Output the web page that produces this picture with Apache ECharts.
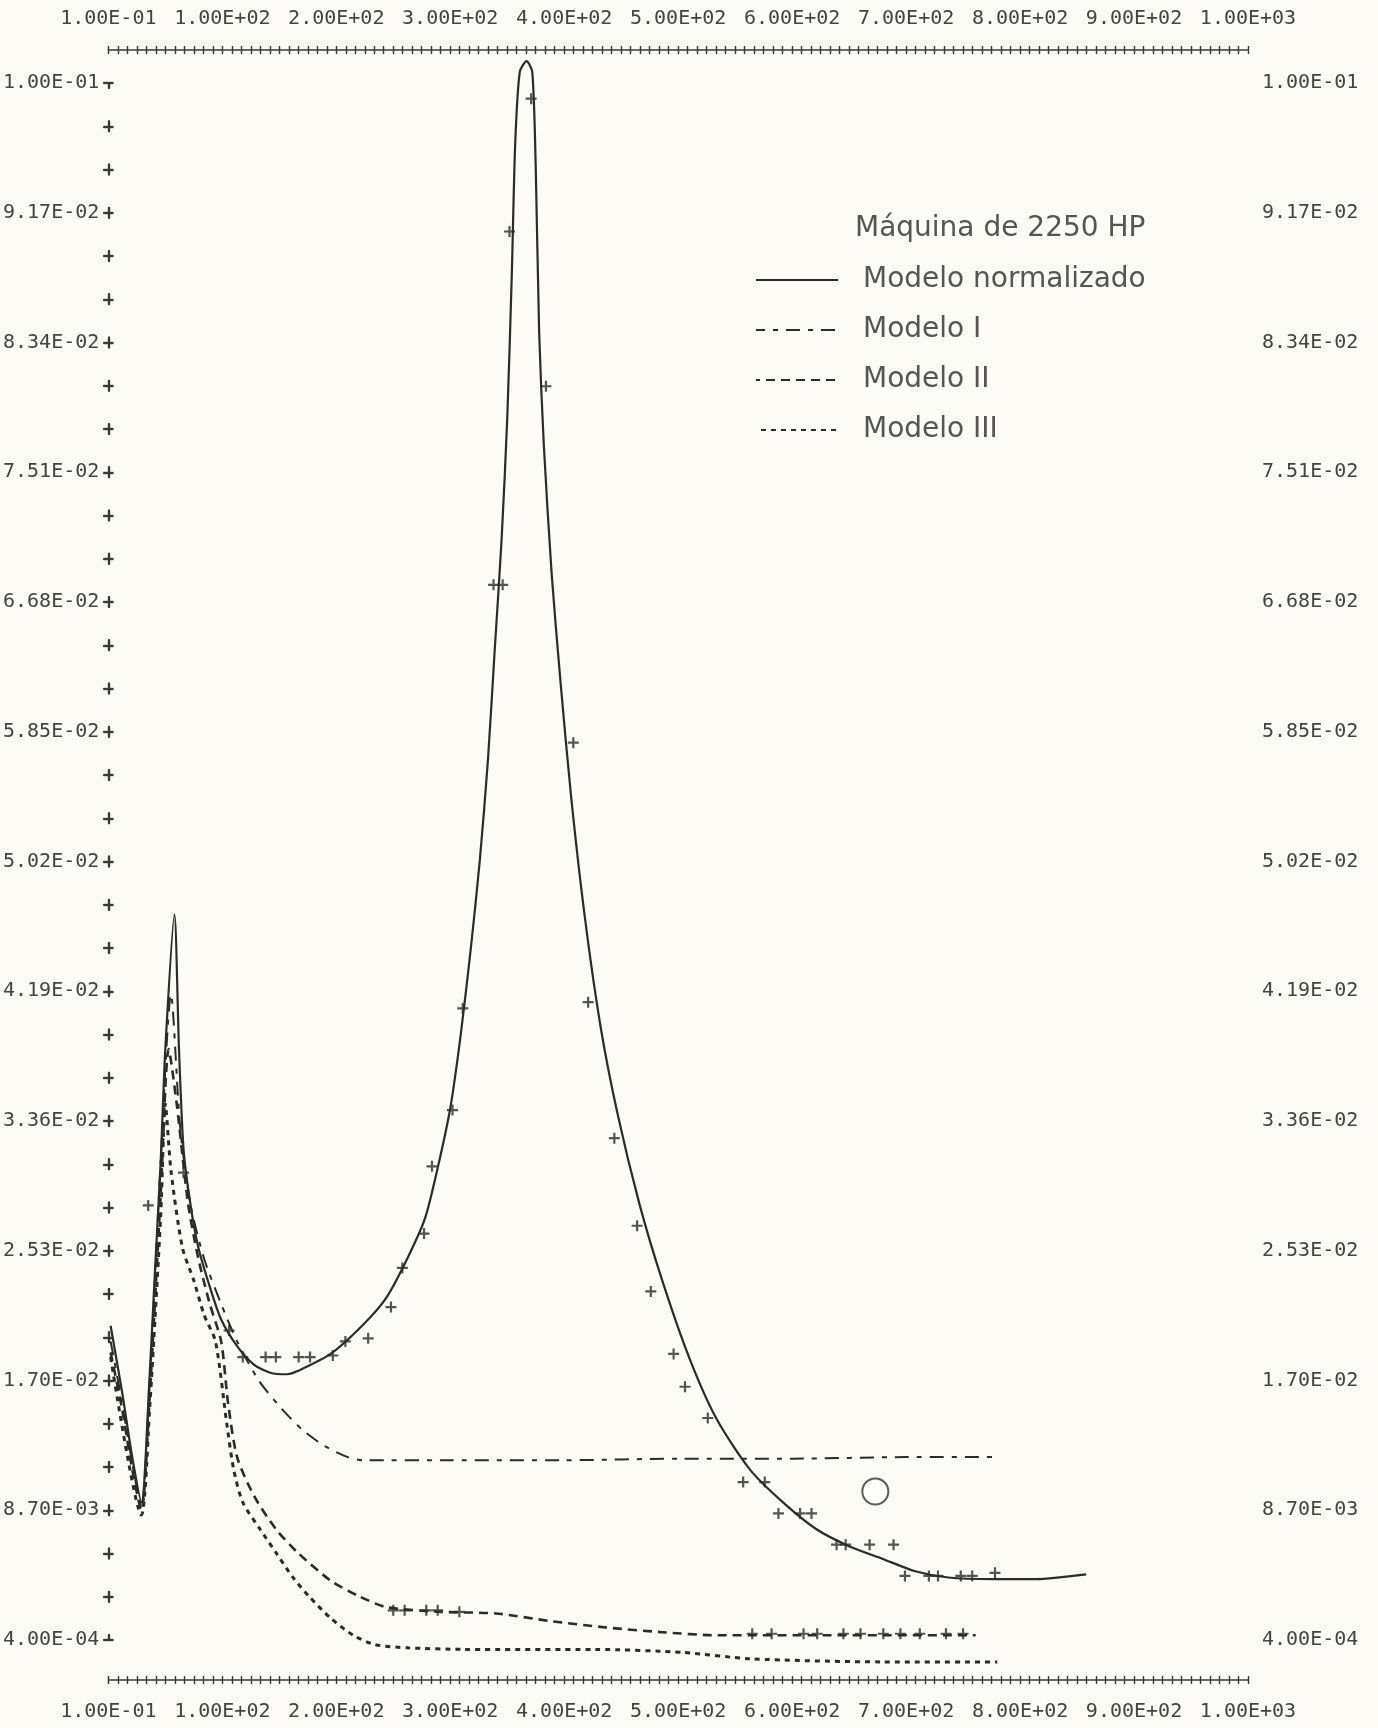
<!DOCTYPE html>
<html>

<head>
    <meta charset="utf-8">
    <title>Máquina de 2250 HP</title>
    <script src="https://cdn.jsdelivr.net/npm/echarts@6/dist/echarts.min.js"></script>
</head>

<body style="margin:0;background:#fcfbf5;">
    <div id="main" style="width: 1378px;height:1728px;"></div>
    <script type="text/javascript">
        var myChart = echarts.init(document.getElementById('main'));

        // tick labels (printer style)
        const xTickLabels = ['1.00E-01', '1.00E+02', '2.00E+02', '3.00E+02', '4.00E+02', '5.00E+02',
            '6.00E+02', '7.00E+02', '8.00E+02', '9.00E+02', '1.00E+03'];
        const yTickLabels = ['4.00E-04', '8.70E-03', '1.70E-02', '2.53E-02', '3.36E-02', '4.19E-02',
            '5.02E-02', '5.85E-02', '6.68E-02', '7.51E-02', '8.34E-02', '9.17E-02', '1.00E-01'];

        // Modelo normalizado
        const normX = [2, 12, 21, 29, 36, 41, 46, 50, 58, 62, 66, 72, 79, 89, 99, 113, 128, 142, 157, 166, 195,
            224, 244, 263, 278, 289, 300, 309, 318, 326, 333, 339, 345, 350, 354, 357, 361, 367, 372, 375, 378,
            382, 389, 397, 406, 418, 432, 447, 466, 486, 510, 534, 563, 592, 621, 650, 679, 708, 737, 776, 814, 858];
        const normY = [0.0205, 0.0163, 0.0121, 0.0092, 0.0170, 0.0241, 0.0311, 0.0382, 0.0468, 0.0382, 0.0318,
            0.0283, 0.0255, 0.0230, 0.0209, 0.0192, 0.0180, 0.0175, 0.0174, 0.0176, 0.0187, 0.0206, 0.0223,
            0.0249, 0.0274, 0.0306, 0.0344, 0.0390, 0.0446, 0.0503, 0.0566, 0.0637, 0.0707, 0.0785, 0.0877,
            0.0961, 0.1007, 0.1014, 0.1007, 0.0947, 0.0841, 0.0770, 0.0686, 0.0615, 0.0544, 0.0467, 0.0396,
            0.0340, 0.0283, 0.0234, 0.0184, 0.0145, 0.0113, 0.0092, 0.0075, 0.0064, 0.0056, 0.0048, 0.0044,
            0.0043, 0.0043, 0.0046];

        // Modelo I
        const m1X = [2, 12, 21, 29, 36, 46, 55, 63, 72, 84, 99, 113, 132, 152, 171, 190, 210, 224, 300, 400,
            500, 600, 700, 780];
        const m1Y = [0.0195, 0.0156, 0.0117, 0.0089, 0.0163, 0.0311, 0.0417, 0.0332, 0.0283, 0.0248, 0.0219,
            0.0195, 0.0170, 0.0152, 0.0138, 0.0128, 0.0121, 0.0119, 0.0119, 0.0119, 0.0120, 0.0120, 0.0121, 0.0121];

        // Modelo II
        const m2X = [2, 12, 21, 29, 36, 46, 53, 60, 70, 79, 89, 99, 105, 113, 128, 147, 166, 195, 220, 244,
            292, 340, 389, 437, 486, 534, 582, 761];
        const m2Y = [0.0188, 0.0152, 0.0113, 0.0087, 0.0156, 0.0290, 0.0382, 0.0347, 0.0283, 0.0248, 0.0219,
            0.0195, 0.0156, 0.0121, 0.0096, 0.0075, 0.0060, 0.0042, 0.0032, 0.0025, 0.0022, 0.0021, 0.0016,
            0.0012, 0.0009, 0.0007, 0.0007, 0.0007];

        // Modelo III
        const m3X = [2, 29, 36, 46, 50, 55, 65, 75, 84, 94, 104, 110, 118, 133, 147, 162, 176, 195, 215, 234,
            263, 312, 428, 505, 563, 679, 780];
        const m3Y = [0.0185, 0.0084, 0.0149, 0.0276, 0.0347, 0.0304, 0.0255, 0.0234, 0.0212, 0.0195, 0.0142,
            0.0113, 0.0092, 0.0075, 0.0060, 0.0044, 0.0032, 0.0018, 0.0007, 0.0001, -0.0001, -0.0002, -0.0002,
            -0.0004, -0.0008, -0.0010, -0.0010];

        // measured points (+)
        const ptX = [35, 66, 106, 118, 138, 147, 167, 177, 197, 208, 228, 248, 258, 277, 284, 302, 311, 338,
            346, 352, 371, 384, 408, 421, 444, 464, 476, 496, 506, 526, 557, 576, 588, 607, 617, 639, 647, 668,
            689, 699, 720, 728, 748, 758, 778,
            250, 260, 279, 289, 308, 565, 582, 610, 622, 645, 660, 680, 695, 712, 735, 750];
        const ptY = [0.0282, 0.0303, 0.0202, 0.0185, 0.0185, 0.0185, 0.0185, 0.0185, 0.0186, 0.0195, 0.0197,
            0.0217, 0.0242, 0.0264, 0.0307, 0.0343, 0.0408, 0.0679, 0.0679, 0.0905, 0.0990, 0.0806, 0.0578,
            0.0412, 0.0325, 0.0269, 0.0227, 0.0187, 0.0166, 0.0146, 0.0105, 0.0105, 0.0085, 0.0085, 0.0085,
            0.0065, 0.0065, 0.0065, 0.0065, 0.0045, 0.0045, 0.0045, 0.0045, 0.0045, 0.0047,
            0.0023, 0.0023, 0.0023, 0.0023, 0.0022, 0.0008, 0.0008, 0.0008, 0.0008, 0.0008, 0.0008, 0.0008,
            0.0008, 0.0008, 0.0008, 0.0008];

        // hand-drawn circle
        const circleX = [673];
        const circleY = [0.0099];

        const zip = (xs, ys) => xs.map((x, i) => [x, ys[i]]);

        const ink = '#2b2b2b';
        const printFont = { fontFamily: 'DejaVu Sans Mono', fontSize: 20, color: '#444' };
        const xLabel = (v) => xTickLabels[Math.round(v / 100)];
        const yLabel = (v) => yTickLabels[Math.round((v - 0.0004) / 0.0083)];

        const rowAxis = (pos, inside) => ({
            type: 'value', position: pos, offset: pos === 'top' ? 33 : 40,
            min: 0, max: 1000, interval: 100,
            splitLine: { show: false },
            axisLine: { show: !inside, lineStyle: { color: '#3a3a3a', width: 1.6 } },
            axisTick: { show: true, inside: inside, length: 4, lineStyle: { color: '#3a3a3a', width: 1.4 } },
            minorTick: { show: true, splitNumber: 12, length: 4, lineStyle: { color: '#3a3a3a', width: 1.4 } },
            axisLabel: {
                show: !inside, formatter: xLabel, margin: pos === 'top' ? 21 : 22,
                showMinLabel: true, showMaxLabel: true, hideOverlap: false, ...printFont
            }
        });

        const colAxis = (pos, inside) => ({
            type: 'value', position: pos, offset: 0,
            min: 0.0004, max: 0.1, interval: 0.0083,
            splitLine: { show: false },
            axisLine: {
                show: !inside,
                lineStyle: { color: '#3a3a3a', width: 2.2, type: [10, 1557 / 36 - 10], dashOffset: 5 }
            },
            axisTick: { show: true, inside: inside, length: 5, lineStyle: { color: '#3a3a3a', width: 2.2 } },
            minorTick: { show: true, splitNumber: 3, length: 5, lineStyle: { color: '#3a3a3a', width: 2.2 } },
            axisLabel: {
                show: !inside, formatter: yLabel, margin: pos === 'left' ? 9 : 14,
                showMinLabel: true, showMaxLabel: true, hideOverlap: false, ...printFont
            }
        });

        const lineSeries = (name, xs, ys, type, width) => ({
            name: name, type: 'line', data: zip(xs, ys),
            xAxisIndex: 0, yAxisIndex: 0,
            showSymbol: false, symbol: 'none', smooth: 0.25, clip: false,
            lineStyle: { color: ink, width: width, type: type },
            itemStyle: { color: ink }
        });

        var option = {
            backgroundColor: '#fcfbf5',
            animation: false,
            title: {
                text: 'Máquina de 2250 HP',
                left: 850, top: 210,
                textStyle: { fontFamily: 'DejaVu Sans', fontSize: 28, fontWeight: 'normal', color: '#555' }
            },
            legend: {
                data: ['Modelo normalizado', 'Modelo I', 'Modelo II', 'Modelo III'],
                orient: 'vertical', left: 750, top: 261,
                itemWidth: 82, itemHeight: 14, itemGap: 22,
                itemStyle: { opacity: 0 },
                textStyle: {
                    fontFamily: 'DejaVu Sans', fontSize: 28, color: '#555',
                    lineHeight: 26, padding: [0, 0, 0, 20]
                }
            },
            grid: { left: 108, top: 83, width: 1140, height: 1557 },
            xAxis: [rowAxis('bottom', false), rowAxis('bottom', true), rowAxis('top', false), rowAxis('top', true)],
            yAxis: [colAxis('left', false), colAxis('left', true), colAxis('right', false), colAxis('right', true)],
            series: [
                lineSeries('Modelo normalizado', normX, normY, 'solid', 2.2),
                lineSeries('Modelo I', m1X, m1Y, [14, 8, 5, 8], 2),
                lineSeries('Modelo II', m2X, m2Y, [9, 6], 2.6),
                lineSeries('Modelo III', m3X, m3Y, [5, 5], 3),
                {
                    name: 'Máquina de 2250 HP', type: 'scatter', data: zip(ptX, ptY),
                    symbol: 'path://M4,0H6V4H10V6H6V10H4V6H0V4H4Z', symbolSize: 11, clip: false,
                    itemStyle: { color: ink }
                },
                {
                    name: 'marca', type: 'scatter', data: zip(circleX, circleY),
                    symbol: 'emptyCircle', symbolSize: 26,
                    itemStyle: { color: '#333', borderColor: '#333', borderWidth: 2 }
                }
            ]
        };

        myChart.setOption(option);
    </script>
</body>

</html>
